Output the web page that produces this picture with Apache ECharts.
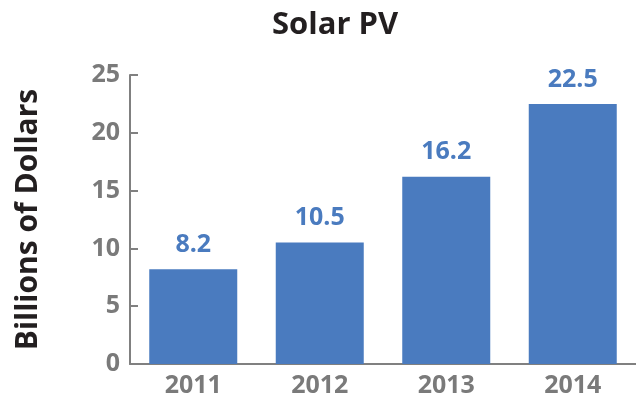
<!DOCTYPE html>
<html><head><meta charset="utf-8">
<script src="https://cdn.jsdelivr.net/npm/echarts@6/dist/echarts.min.js"></script>
<style>html,body{margin:0;padding:0;background:#fff}#c{width:636px;height:400px}</style>
</head><body><div id="c"></div>
<script>
const categories = ['2011', '2012', '2013', '2014'];
const values = [8.2, 10.5, 16.2, 22.5];
const yTicks = [0, 5, 10, 15, 20, 25];
const chart = echarts.init(document.getElementById('c'), null, {renderer: 'canvas'});
const FONT = 'Open Sans';
chart.setOption({
  animation: false,
  title: {
    text: 'Solar PV', left: 267, top: 5,
    textStyle: {fontFamily: FONT, fontWeight: 'bold', fontSize: 31, color: '#231f20'}
  },
  grid: {left: 130, right: 0, top: 75, bottom: 36, containLabel: false},
  xAxis: {
    type: 'category', data: categories,
    axisLine: {lineStyle: {color: '#808080', width: 2}},
    axisTick: {show: false},
    axisLabel: {fontFamily: FONT, fontWeight: 'bold', fontSize: 25, color: '#7a7a7a', margin: 9}
  },
  yAxis: {
    type: 'value', min: yTicks[0], max: yTicks[yTicks.length - 1], interval: 5,
    name: 'Billions of Dollars', nameLocation: 'middle', nameGap: 87,
    nameTextStyle: {fontFamily: FONT, fontWeight: 'bold', fontSize: 30, color: '#231f20'},
    axisLine: {show: true, lineStyle: {color: '#808080', width: 2}},
    axisTick: {show: true, inside: true, length: 8, lineStyle: {color: '#808080', width: 2}},
    splitLine: {show: false},
    axisLabel: {fontFamily: FONT, fontWeight: 'bold', fontSize: 25, color: '#7a7a7a', margin: 10}
  },
  series: [{
    type: 'bar', data: values, barWidth: 88,
    itemStyle: {color: '#4a7bbf'},
    label: {show: true, position: 'top', distance: 12, fontFamily: FONT, fontWeight: 'bold', fontSize: 25, color: '#4a7bbf'}
  }]
});
</script></body></html>
